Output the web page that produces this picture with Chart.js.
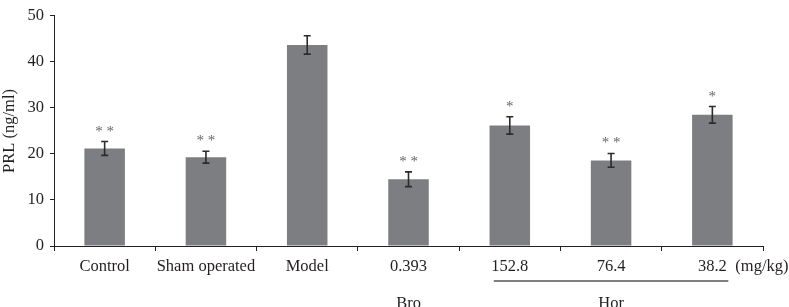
<!DOCTYPE html>
<html>
<head>
<meta charset="utf-8">
<script src="https://cdn.jsdelivr.net/npm/chart.js@4"></script>
<style>
  body { margin: 0; background: #fff; }
  #prlChart { display: block; }
</style>
</head>
<body>
<canvas id="prlChart" width="789" height="307"></canvas>
<script>
'use strict'

const categories = ['Control', 'Sham operated', 'Model', '0.393', '152.8', '76.4', '38.2'];
const prlValues = [21.2, 19.3, 43.7, 14.5, 26.2, 18.6, 28.5];
const prlErrors = [1.5, 1.3, 2.0, 1.6, 1.9, 1.5, 1.8];
const significance = ['**', '**', '', '**', '*', '**', '*'];
const yTicks = [0, 10, 20, 30, 40, 50];
const groups = [
    { label: 'Bro', from: 3, to: 3, line: false },
    { label: 'Hor', from: 4, to: 6, line: true }
];
const unitLabel = '(mg/kg)';

const serif = "'Liberation Serif', 'DejaVu Serif', serif";

// error bars + stars above them
const errorBarPlugin = {
    id: 'errorBars',
    afterDatasetsDraw(chart) {
        const ctx = chart.ctx;
        const x = chart.scales.x;
        const y = chart.scales.y;
        ctx.save();
        prlValues.forEach((v, i) => {
            const px = x.getPixelForValue(i);
            const top = y.getPixelForValue(v + prlErrors[i]);
            const bottom = y.getPixelForValue(v - prlErrors[i]);
            ctx.strokeStyle = '#2b2b2b';
            ctx.lineWidth = 1.6;
            ctx.beginPath();
            ctx.moveTo(px, top);
            ctx.lineTo(px, bottom);
            ctx.moveTo(px - 3.5, top);
            ctx.lineTo(px + 3.5, top);
            ctx.moveTo(px - 3.5, bottom);
            ctx.lineTo(px + 3.5, bottom);
            ctx.stroke();

            if (significance[i]) {
                ctx.fillStyle = '#666';
                ctx.font = '15px ' + serif;
                ctx.textAlign = 'center';
                ctx.textBaseline = 'alphabetic';
                ctx.fillText(significance[i].split('').join(' '), px, top - 6);
            }
        });
        ctx.restore();
    }
};

// group labels under the x axis
const groupLabelPlugin = {
    id: 'groupLabels',
    afterDraw(chart) {
        const ctx = chart.ctx;
        const x = chart.scales.x;
        ctx.save();
        ctx.font = '16.5px ' + serif;
        ctx.fillStyle = '#231f20';
        ctx.textBaseline = 'alphabetic';
        ctx.textAlign = 'center';
        groups.forEach(g => {
            const x1 = x.getPixelForValue(g.from);
            const x2 = x.getPixelForValue(g.to);
            ctx.fillText(g.label, (x1 + x2) / 2, 308);
            if (g.line) {
                ctx.strokeStyle = '#555';
                ctx.lineWidth = 1.5;
                ctx.beginPath();
                ctx.moveTo(x1 - 16, 281);
                ctx.lineTo(x2 + 16, 281);
                ctx.stroke();
            }
        });
        ctx.textAlign = 'left';
        ctx.textBaseline = 'middle';
        ctx.fillText(unitLabel, x.getPixelForValue(categories.length - 1) + 23, 267);
        ctx.restore();
    }
};

new Chart(document.getElementById('prlChart'), {
    type: 'bar',
    data: {
        labels: categories,
        datasets: [{
            data: prlValues,
            backgroundColor: '#7d7e82',
            borderWidth: 0,
            categoryPercentage: 1,
            barPercentage: 0.4
        }]
    },
    options: {
        responsive: false,
        animation: false,
        layout: {
            autoPadding: false,
            padding: { top: 6, right: 26, left: 0, bottom: 0 }
        },
        plugins: {
            legend: { display: false },
            tooltip: { enabled: false }
        },
        scales: {
            x: {
                afterFit(scale) { scale.height = 61; },
                grid: {
                    offset: true,
                    drawOnChartArea: false,
                    drawTicks: true,
                    tickLength: 5,
                    color: '#231f20'
                },
                border: { display: true, color: '#231f20', width: 1 },
                ticks: {
                    autoSkip: false,
                    maxRotation: 0,
                    minRotation: 0,
                    padding: 6,
                    color: '#231f20',
                    font: { family: serif, size: 16.5 }
                }
            },
            y: {
                min: 0,
                max: 50,
                afterFit(scale) { scale.width = 54; },
                afterBuildTicks(scale) {
                    scale.ticks = yTicks.map(v => ({ value: v }));
                },
                grid: {
                    drawOnChartArea: false,
                    drawTicks: true,
                    tickLength: 4,
                    color: '#231f20'
                },
                border: { display: true, color: '#231f20', width: 1 },
                ticks: {
                    padding: 6,
                    color: '#231f20',
                    font: { family: serif, size: 16.5 }
                },
                title: {
                    display: true,
                    text: 'PRL (ng/ml)',
                    color: '#231f20',
                    padding: 0,
                    font: { family: serif, size: 16.5 }
                }
            }
        }
    },
    plugins: [errorBarPlugin, groupLabelPlugin]
});
</script>
</body>
</html>
